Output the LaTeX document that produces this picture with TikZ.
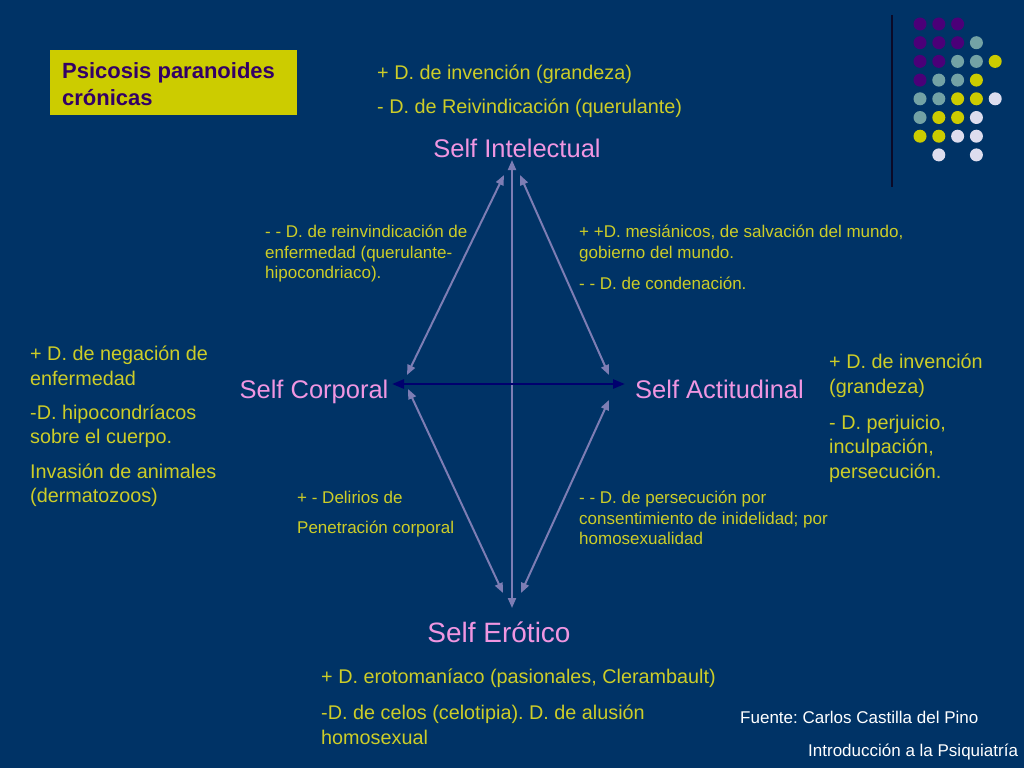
\documentclass[tikz,border=0pt]{standalone}
\usepackage{fontspec}
\setmainfont{Liberation Sans}
\usetikzlibrary{arrows.meta}
\frenchspacing
\definecolor{bg}{RGB}{0,51,102}
\definecolor{ytext}{RGB}{205,205,40}
\definecolor{pinkself}{RGB}{240,150,225}
\definecolor{arrowc}{RGB}{125,125,180}
\definecolor{navyarrow}{RGB}{0,0,110}
\definecolor{titleyel}{RGB}{204,204,0}
\definecolor{titletext}{RGB}{51,0,102}
\definecolor{dotP}{RGB}{75,0,120}
\definecolor{dotT}{RGB}{115,162,165}
\definecolor{dotY}{RGB}{204,204,0}
\definecolor{dotW}{RGB}{221,221,238}
\definecolor{vline}{RGB}{10,10,40}
\begin{document}
\frenchspacing
\begin{tikzpicture}[x=1pt,y=-1pt,
  body/.style={anchor=north west, inner sep=0pt, text=ytext, align=left, font=\fontsize{19.8}{24.5}\selectfont},
  mid/.style={anchor=north west, inner sep=0pt, text=ytext, align=left, font=\fontsize{17}{20.5}\selectfont},
  selflbl/.style={anchor=base, inner sep=0pt, text=pinkself, font=\fontsize{25.5}{30}\selectfont},
  link/.style={draw=arrowc, line width=2pt, {Triangle[length=10pt,width=8pt]}-{Triangle[length=10pt,width=8pt]}},
  hlink/.style={draw=navyarrow, line width=2.6pt, {Triangle[length=12pt,width=9pt]}-{Triangle[length=12pt,width=9pt]}},
  foot/.style={anchor=base west, inner sep=0pt, text=white, font=\fontsize{17}{20}\selectfont},
  dot/.style={circle, inner sep=0pt, minimum size=13pt}
]
\fill[bg] (0,0) rectangle (1024,768);
\useasboundingbox (0,0) rectangle (1024,768);

% title box
\node[fill=titleyel, anchor=north west, inner sep=0pt, minimum width=247pt, minimum height=65pt] (titlebox) at (50,50) {};
\node[anchor=north west, inner sep=0pt, text=titletext, align=left, font=\bfseries\fontsize{22}{27}\selectfont] (title) at (62,62) {Psicosis paranoides\\crónicas};

% dot grid and vertical rule
\draw[vline, line width=2pt] (892,15) -- (892,187);
\foreach \c/\r/\col in {0/0/dotP,1/0/dotP,2/0/dotP,
  0/1/dotP,1/1/dotP,2/1/dotP,3/1/dotT,
  0/2/dotP,1/2/dotP,2/2/dotT,3/2/dotT,4/2/dotY,
  0/3/dotP,1/3/dotT,2/3/dotT,3/3/dotY,
  0/4/dotT,1/4/dotT,2/4/dotY,3/4/dotY,4/4/dotW,
  0/5/dotT,1/5/dotY,2/5/dotY,3/5/dotW,
  0/6/dotY,1/6/dotY,2/6/dotW,3/6/dotW,
  1/7/dotW,3/7/dotW}
  \node[dot, fill=\col] (d\c\r) at ({920+18.8*\c},{24+18.7*\r}) {};

% self labels
\node[selflbl] (intel) at (517,157) {Self Intelectual};
\node[selflbl] (corp) at (314,398) {Self Corporal};
\node[selflbl] (actit) at (719.5,398) {Self Actitudinal};
\node[selflbl, font=\fontsize{28}{32}\selectfont] (erot) at (499,642) {Self Erótico};

% arrow endpoints
\coordinate (vt) at (512,160);
\coordinate (vb) at (512,608);
\coordinate (hl) at (392,384);
\coordinate (hr) at (625,384);
\coordinate (ulb) at (407,375);
\coordinate (ult) at (504,175);
\coordinate (urt) at (520,175);
\coordinate (urb) at (609,375);
\coordinate (llt) at (408,389);
\coordinate (llb) at (503,593);
\coordinate (lrt) at (609,400);
\coordinate (lrb) at (521,593);

\draw[link] (vt) -- (vb);
\draw[link] (ulb) -- (ult);
\draw[link] (urt) -- (urb);
\draw[link] (llt) -- (llb);
\draw[link] (lrt) -- (lrb);
\draw[hlink] (hl) -- (hr);

% texts
\node[body] (toptxt) at (377,65) {+ D. de invención (grandeza)\\[9.5pt]- D. de Reivindicación (querulante)};
\node[body] (lefttxt) at (30,346) {+ D. de negación de\\enfermedad\\[9.5pt]-D. hipocondríacos\\sobre el cuerpo.\\[10pt]Invasión de animales\\(dermatozoos)};
\node[body] (righttxt) at (829,354) {+ D. de invención\\(grandeza)\\[11.5pt]- D. perjuicio,\\inculpación,\\persecución.};
\node[body] (bottxt) at (321,669) {+ D. erotomaníaco (pasionales, Clerambault)\\[11.5pt]-D. de celos (celotipia). D. de alusión\\homosexual};
\node[mid] (tlmid) at (265,225) {- - D. de reinvindicación de\\enfermedad (querulante-\\hipocondriaco).};
\node[mid] (trmid) at (579,225) {+ +D. mesiánicos, de salvación del mundo,\\gobierno del mundo.\\[10.5pt]- - D. de condenación.};
\node[mid] (blmid) at (297,491) {+ - Delirios de\\[9.5pt]Penetración corporal};
\node[mid] (brmid) at (579,491) {- - D. de persecución por\\consentimiento de inidelidad; por\\homosexualidad};

\node[foot] (fuente) at (740,723) {Fuente: Carlos Castilla del Pino};
\node[foot] (intro) at (808,756) {Introducción a la Psiquiatría};
\end{tikzpicture}
\end{document}
